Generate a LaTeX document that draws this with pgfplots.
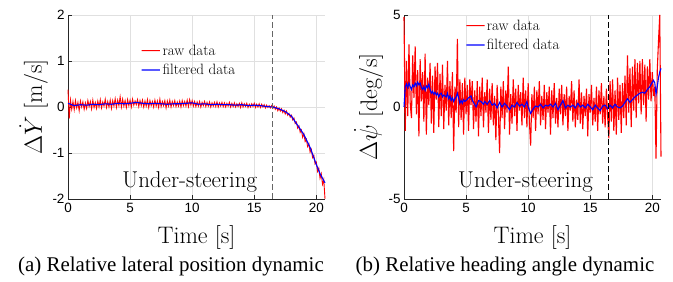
\documentclass[border=0pt]{standalone}
\usepackage{fontspec}
\usepackage{pgfplots}
\pgfplotsset{compat=1.18}
\newfontfamily\ticksf{Liberation Sans}
\newfontfamily\capserif{Liberation Serif}
\definecolor{gridc}{gray}{0.88}
\definecolor{axc}{gray}{0.15}
\tikzset{legtext/.style={anchor=base west, font=\fontsize{15}{16}\selectfont, inner sep=0pt}}
\pgfplotsset{
  myax/.style={
    scale only axis, width=257bp, height=184bp,
    anchor=south west,
    xmin=0, xmax=20.7,
    axis x line*=bottom, axis y line*=left,
    axis line style={axc, line width=0.7pt, -},
    tick style={axc, line width=0.6pt},
    tick align=inside, major tick length=3.5bp,
    grid=major, major grid style={gridc, line width=0.6pt},
    xtick={0,5,10,15,20},
    /pgf/number format/assume math mode=true,
    ticklabel style={font=\ticksf\fontsize{13.5}{14}\selectfont},
    xticklabel style={yshift=-1bp},
    label style={font=\fontsize{24}{26}\selectfont},
    xlabel={Time [s]},
    xlabel style={at={(axis description cs:0.5,-0.24)}, anchor=base},
    clip=false,
  },
}
\begin{document}
\begin{tikzpicture}
\useasboundingbox (0,0) rectangle (673bp,282bp);
\begin{axis}[myax, at={(68bp,83bp)},
  ymin=-2, ymax=2, ytick={-2,-1,0,1,2},
  ylabel={$\Delta\dot{Y}$ [m/s]},
  ylabel style={at={(axis description cs:-0.102,0.5)}, anchor=base},
]
% legend keys
\addplot[color=red, draw=red, line width=1.1pt] coordinates {(5.94,1.224)(6.67,1.2245)(7.41,1.224)};
\addplot[color=blue, draw=blue, line width=1.1pt] coordinates {(5.94,0.804)(6.67,0.8045)(7.41,0.804)};
\addplot[red, line width=0.9pt] coordinates {
(0.0,0.38)(0.1,-0.25)(0.2,0.15)(0.3,-0.05)(0.4,0.12)(0.5,-0.06)(0.6,0.14)(0.7,-0.02)(0.8,0.10)(0.9,-0.08)
(1.0,0.13)(1.1,0.00)(1.2,0.11)(1.3,-0.05)(1.4,0.09)(1.5,-0.03)(1.6,0.14)(1.7,0.01)(1.8,0.12)(1.9,-0.04)
(2.0,0.15)(2.1,-0.01)(2.2,0.10)(2.3,-0.03)(2.4,0.13)(2.5,0.00)(2.6,0.16)(2.7,-0.02)(2.8,0.11)(2.9,0.02)
(3.0,0.17)(3.1,-0.01)(3.2,0.12)(3.3,0.00)(3.4,0.15)(3.5,-0.03)(3.6,0.14)(3.7,0.02)(3.8,0.18)(3.9,-0.01)
(4.0,0.15)(4.1,0.03)(4.2,0.22)(4.3,0.00)(4.4,0.17)(4.5,0.02)(4.6,0.14)(4.7,-0.01)(4.8,0.16)(4.9,0.03)
(5.0,0.15)(5.1,0.00)(5.2,0.17)(5.3,0.04)(5.4,0.13)(5.5,0.05)(5.6,0.16)(5.7,0.01)(5.8,0.14)(5.9,0.03)
(6.0,0.15)(6.1,0.00)(6.2,0.13)(6.3,0.02)(6.4,0.16)(6.5,-0.01)(6.6,0.14)(6.7,0.03)(6.8,0.12)(6.9,0.00)
(7.0,0.15)(7.1,0.02)(7.2,0.13)(7.3,-0.01)(7.4,0.17)(7.5,0.01)(7.6,0.12)(7.7,0.03)(7.8,0.14)(7.9,-0.02)
(8.0,0.13)(8.1,0.02)(8.2,0.15)(8.3,0.00)(8.4,0.12)(8.5,0.03)(8.6,0.14)(8.7,0.01)(8.8,0.11)(8.9,0.02)
(9.0,0.13)(9.1,0.00)(9.2,0.14)(9.3,0.03)(9.4,0.12)(9.5,0.02)(9.6,0.15)(9.7,0.01)(9.8,0.16)(9.9,0.04)
(10.0,0.14)(10.1,0.02)(10.2,0.12)(10.3,0.01)(10.4,0.11)(10.5,0.02)(10.6,0.12)(10.7,0.00)(10.8,0.10)(10.9,0.03)
(11.0,0.12)(11.1,0.01)(11.2,0.10)(11.3,0.02)(11.4,0.11)(11.5,0.00)(11.6,0.09)(11.7,0.02)(11.8,0.10)(11.9,0.01)
(12.0,0.11)(12.1,0.00)(12.2,0.09)(12.3,0.02)(12.4,0.10)(12.5,0.01)(12.6,0.09)(12.7,0.00)(12.8,0.08)(12.9,0.02)
(13.0,0.10)(13.1,0.00)(13.2,0.08)(13.3,0.01)(13.4,0.09)(13.5,0.00)(13.6,0.07)(13.7,0.01)(13.8,0.08)(13.9,-0.01)
(14.0,0.09)(14.1,0.00)(14.2,0.07)(14.3,0.01)(14.4,0.08)(14.5,-0.01)(14.6,0.06)(14.7,0.00)(14.8,0.07)(14.9,0.01)
(15.0,0.08)(15.1,-0.01)(15.2,0.06)(15.3,0.00)(15.4,0.07)(15.5,-0.01)(15.6,0.06)(15.7,0.00)(15.8,0.05)(15.9,-0.02)
(16.0,0.04)(16.1,-0.01)(16.2,0.03)(16.3,-0.02)(16.4,0.03)(16.5,-0.03)(16.6,0.02)(16.7,-0.05)(16.8,0.00)(16.9,-0.08)
(17.0,-0.02)(17.1,-0.09)(17.2,-0.04)(17.3,-0.12)(17.4,-0.07)(17.5,-0.15)(17.6,-0.09)(17.7,-0.18)(17.8,-0.14)(17.9,-0.22)
(18.0,-0.18)(18.1,-0.28)(18.2,-0.24)(18.3,-0.36)(18.4,-0.33)(18.5,-0.46)(18.6,-0.41)(18.7,-0.55)(18.8,-0.50)(18.9,-0.66)
(19.0,-0.58)(19.1,-0.75)(19.2,-0.70)(19.3,-0.86)(19.4,-0.80)(19.5,-0.98)(19.6,-0.92)(19.7,-1.10)(19.8,-1.05)(19.9,-1.24)
(20.0,-1.20)(20.1,-1.40)(20.2,-1.33)(20.3,-1.55)(20.4,-1.45)(20.5,-1.68)(20.6,-1.58)(20.7,-2.00)
};
\addplot[blue, line width=1.1pt] coordinates {
(0,0.08)(0.5,0.03)(1,0.05)(1.5,0.04)(2,0.06)(2.5,0.05)(3,0.07)(3.5,0.06)(4,0.08)(4.5,0.07)(5,0.08)(5.5,0.10)
(6,0.08)(6.5,0.07)(7,0.08)(7.5,0.07)(8,0.06)(8.5,0.07)(9,0.07)(9.5,0.08)(10,0.09)(10.5,0.06)(11,0.07)(11.5,0.05)
(12,0.06)(12.5,0.05)(13,0.05)(13.5,0.04)(14,0.05)(14.5,0.03)(15,0.04)(15.5,0.03)(16,0.01)(16.5,0.00)(17,-0.04)
(17.5,-0.10)(18,-0.20)(18.5,-0.40)(19,-0.60)(19.5,-0.88)(20,-1.25)(20.3,-1.45)(20.5,-1.55)(20.7,-1.65)
};
\addplot[black!60, line width=0.8pt, dash pattern=on 6bp off 3bp] coordinates {(16.5,-2)(16.5,2)};
\node[legtext] at (axis cs:7.60,1.13) {raw data};
\node[legtext] at (axis cs:7.60,0.717) {filtered data};
\node[anchor=base west, font=\fontsize{23}{25}\selectfont] at (axis description cs:0.198,0.06) {Under-steering};
\end{axis}

\begin{axis}[myax, at={(404bp,83bp)},
  ymin=-5, ymax=5, ytick={-5,0,5},
  ylabel={$\Delta\dot{\psi}$ [deg/s]},
  ylabel style={at={(axis description cs:-0.105,0.5)}, anchor=base},
]
% legend keys
\addplot[color=red, draw=red, line width=1.1pt] coordinates {(5.03,4.42)(5.77,4.421)(6.50,4.42)};
\addplot[color=blue, draw=blue, line width=1.1pt] coordinates {(5.03,3.37)(5.77,3.371)(6.50,3.37)};
\addplot[red, line width=1.1pt] coordinates {
(0.0,4.9)(0.1,-1.3)(0.2,2.5)(0.3,-0.5)(0.4,3.4)(0.5,0.2)(0.6,-0.6)(0.7,2.8)(0.8,0.5)(0.9,3.3)
(1.0,-0.4)(1.1,2.0)(1.2,-1.6)(1.3,2.6)(1.4,0.3)(1.5,1.9)(1.6,-0.8)(1.7,2.9)(1.8,-1.5)(1.9,1.6)
(2.0,0.1)(2.1,2.4)(2.2,-0.9)(2.3,1.7)(2.4,-1.4)(2.5,2.2)(2.6,0.4)(2.7,2.4)(2.8,-1.1)(2.9,1.8)
(3.0,-0.5)(3.1,2.3)(3.2,-1.2)(3.3,1.2)(3.4,-0.2)(3.5,2.5)(3.6,-1.0)(3.7,1.4)(3.8,-0.6)(3.9,1.9)
(4.0,-2.4)(4.1,1.1)(4.2,-0.3)(4.3,3.7)(4.4,-1.1)(4.5,1.5)(4.6,-0.7)(4.7,1.3)(4.8,-1.5)(4.9,1.6)
(5.0,-0.4)(5.1,1.2)(5.2,-1.3)(5.3,1.5)(5.4,0.1)(5.5,1.4)(5.6,-1.2)(5.7,0.9)(5.8,-0.8)(5.9,1.4)
(6.0,-1.6)(6.1,1.1)(6.2,-0.5)(6.3,1.6)(6.4,-1.1)(6.5,0.8)(6.6,-0.3)(6.7,1.5)(6.8,-1.4)(6.9,1.0)
(7.0,-0.7)(7.1,1.3)(7.2,-1.0)(7.3,0.6)(7.4,-1.8)(7.5,1.2)(7.6,-0.4)(7.7,-2.5)(7.8,1.1)(7.9,-0.6)
(8.0,1.4)(8.1,-1.2)(8.2,0.9)(8.3,-0.3)(8.4,2.2)(8.5,-1.5)(8.6,0.7)(8.7,-0.9)(8.8,1.5)(8.9,-0.5)
(9.0,1.0)(9.1,-1.3)(9.2,1.2)(9.3,-0.2)(9.4,0.8)(9.5,-1.0)(9.6,1.6)(9.7,-0.6)(9.8,0.9)(9.9,-1.1)
(10.0,1.3)(10.1,-0.8)(10.2,-2.1)(10.3,0.7)(10.4,-0.6)(10.5,1.1)(10.6,-1.3)(10.7,0.9)(10.8,-0.4)(10.9,1.4)
(11.0,-1.0)(11.1,0.6)(11.2,-0.7)(11.3,1.2)(11.4,-1.2)(11.5,0.8)(11.6,-0.3)(11.7,1.1)(11.8,-1.5)(11.9,0.9)
(12.0,-0.6)(12.1,1.3)(12.2,-0.9)(12.3,0.5)(12.4,-1.1)(12.5,1.0)(12.6,-0.4)(12.7,1.2)(12.8,-1.0)(12.9,0.7)
(13.0,-0.5)(13.1,1.1)(13.2,-1.3)(13.3,0.6)(13.4,-0.2)(13.5,1.4)(13.6,-0.8)(13.7,0.9)(13.8,-1.1)(13.9,0.4)
(14.0,-0.7)(14.1,1.5)(14.2,-0.9)(14.3,0.8)(14.4,-1.2)(14.5,0.6)(14.6,-0.5)(14.7,1.0)(14.8,-1.6)(14.9,0.7)
(15.0,-0.3)(15.1,1.2)(15.2,-1.0)(15.3,0.5)(15.4,-0.8)(15.5,1.1)(15.6,-1.3)(15.7,0.9)(15.8,-0.4)(15.9,1.3)
(16.0,-0.9)(16.1,0.6)(16.2,-1.1)(16.3,1.0)(16.4,-0.5)(16.5,-1.7)(16.6,1.4)(16.7,-0.8)(16.8,1.5)(16.9,-1.3)
(17.0,0.9)(17.1,-1.5)(17.2,1.6)(17.3,-0.7)(17.4,1.2)(17.5,-1.4)(17.6,1.3)(17.7,-0.6)(17.8,1.7)(17.9,-1.0)
(18.0,2.8)(18.1,-0.3)(18.2,2.1)(18.3,-1.1)(18.4,2.2)(18.5,-0.2)(18.6,2.6)(18.7,-0.6)(18.8,2.4)(18.9,0.2)
(19.0,2.5)(19.1,-0.4)(19.2,2.6)(19.3,0.1)(19.4,2.3)(19.5,-0.8)(19.6,2.2)(19.7,0.4)(19.8,2.6)(19.9,0.3)
(20.0,1.9)(20.1,0.6)(20.2,1.1)(20.3,-2.8)(20.4,2.0)(20.5,3.6)(20.6,5.0)(20.7,-2.7)
};
\addplot[blue, line width=1.1pt] coordinates {
(0,0)(0.1,1.1)(0.2,1.25)(0.3,1.05)(0.4,1.3)(0.5,1.1)(0.6,0.95)(0.7,1.2)(0.8,1.1)(0.9,1.3)(1.0,1.15)(1.1,1.35)
(1.2,1.2)(1.3,1.3)(1.4,1.05)(1.5,0.95)(1.6,1.1)(1.7,0.9)(1.8,1.15)(1.9,1.05)(2.0,1.25)(2.1,0.95)(2.2,0.75)
(2.3,0.85)(2.4,0.7)(2.5,0.8)(2.6,0.65)(2.7,0.75)(2.8,0.55)(2.9,0.7)(3.0,0.75)(3.1,0.55)(3.2,0.65)(3.4,0.55)
(3.5,0.75)(3.6,0.45)(3.7,0.6)(3.8,0.35)(3.9,0.5)(4.0,0.3)(4.1,0.45)(4.2,0.55)(4.3,0.75)(4.4,0.5)(4.5,0.2)
(4.6,0.35)(4.7,0.2)(4.8,0.4)(4.9,0.3)(5.0,0.35)(5.2,0.5)(5.4,0.6)(5.5,0.35)(5.6,0.25)(5.8,0.0)(5.9,0.15)
(6.0,0.35)(6.2,0.3)(6.4,0.15)(6.5,0.3)(6.7,0.15)(6.9,0.35)(7.1,0.1)(7.3,0.2)(7.5,-0.05)(7.7,0.25)(7.9,0.0)
(8.1,0.2)(8.3,0.05)(8.5,-0.15)(8.7,0.1)(8.9,0.0)(9.1,0.25)(9.3,0.05)(9.5,0.15)(9.7,0.0)(9.9,0.3)(10.0,0.0)
(10.2,-0.35)(10.4,-0.1)(10.6,0.05)(10.8,0.0)(11.0,0.15)(11.2,-0.05)(11.4,0.1)(11.6,0.05)(11.8,0.15)(12.0,0.0)
(12.2,0.2)(12.4,-0.15)(12.6,0.1)(12.8,0.35)(13.0,-0.05)(13.2,0.1)(13.4,0.0)(13.6,0.1)(13.8,-0.05)(14.0,0.2)
(14.2,0.0)(14.4,0.1)(14.6,-0.05)(14.8,0.15)(15.0,0.0)(15.2,-0.15)(15.4,0.1)(15.6,-0.05)(15.8,-0.2)(16.0,0.05)
(16.2,0.1)(16.4,-0.1)(16.6,0.1)(16.8,-0.05)(17.0,0.15)(17.2,0.0)(17.4,-0.05)(17.6,0.05)(17.8,0.25)(18.0,0.45)
(18.2,0.25)(18.4,0.4)(18.6,0.55)(18.8,0.65)(19.0,0.75)(19.2,0.8)(19.4,0.75)(19.6,0.95)(19.8,1.1)(20.0,1.35)
(20.1,1.45)(20.2,1.3)(20.3,0.7)(20.4,1.1)(20.5,1.6)(20.6,1.9)(20.7,2.1)
};
\addplot[black, line width=0.8pt, dash pattern=on 6bp off 3bp] coordinates {(16.5,-5)(16.5,5)};
\node[legtext] at (axis cs:6.66,4.18) {raw data};
\node[legtext] at (axis cs:6.66,3.15) {filtered data};
\node[anchor=base west, font=\fontsize{23}{25}\selectfont] at (axis description cs:0.197,0.06) {Under-steering};
\end{axis}

\node[anchor=base, font=\capserif\fontsize{21}{23}\selectfont] at (171bp,11bp) {(a) Relative lateral position dynamic};
\node[anchor=base, font=\capserif\fontsize{21}{23}\selectfont] at (505bp,11bp) {(b) Relative heading angle dynamic};
\end{tikzpicture}
\end{document}
